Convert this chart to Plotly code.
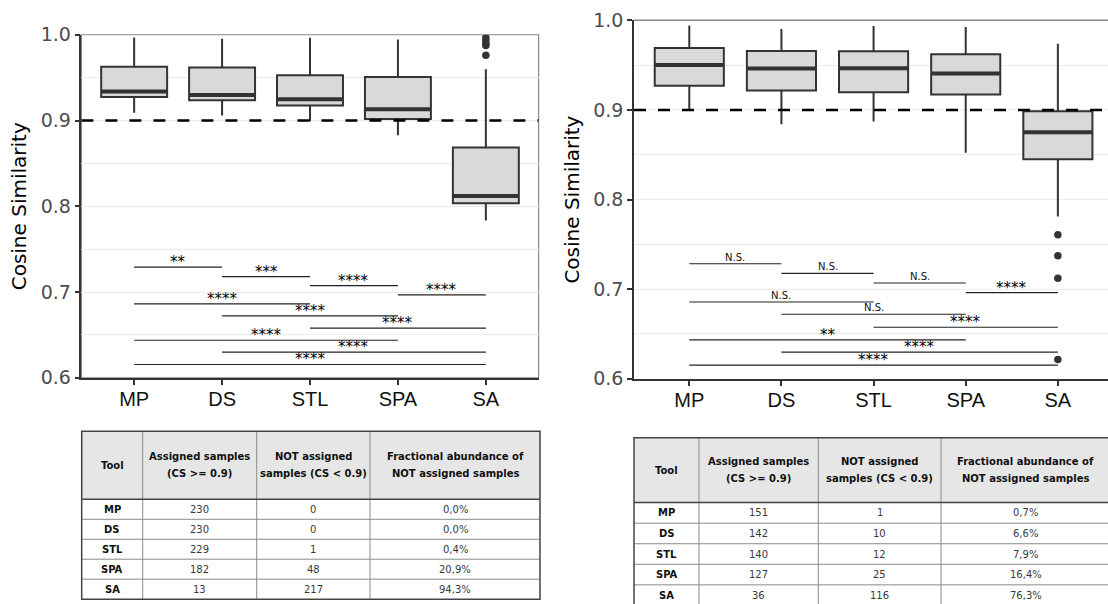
import plotly.graph_objects as go

# ---------------------------------------------------------------- data
tools = ["MP", "DS", "STL", "SPA", "SA"]
threshold = 0.9

# left panel: box statistics per tool
a_lower = [0.909, 0.906, 0.899, 0.883, 0.7835]
a_q1 = [0.9275, 0.9236, 0.9177, 0.9018, 0.8037]
a_median = [0.934, 0.9298, 0.925, 0.9131, 0.812]
a_q3 = [0.9628, 0.962, 0.953, 0.9507, 0.8685]
a_upper = [0.9969, 0.9953, 0.9965, 0.9946, 0.960]
a_out_tool = ["SA", "SA", "SA", "SA", "SA"]
a_out_val = [0.9965, 0.993, 0.990, 0.9876, 0.9763]

# right panel: box statistics per tool
b_lower = [0.8995, 0.8842, 0.8872, 0.8523, 0.7811]
b_q1 = [0.9269, 0.9217, 0.9198, 0.9173, 0.8449]
b_median = [0.9503, 0.9462, 0.9466, 0.9406, 0.875]
b_q3 = [0.9692, 0.9659, 0.9655, 0.9622, 0.8987]
b_upper = [0.9944, 0.9904, 0.9937, 0.9926, 0.974]
b_out_tool = ["SA", "SA", "SA", "SA"]
b_out_val = [0.7607, 0.7373, 0.7121, 0.6215]

# pairwise comparisons (group1, group2), bracket heights and labels
pairs = [("MP", "DS"), ("DS", "STL"), ("STL", "SPA"), ("SPA", "SA"),
         ("MP", "STL"), ("DS", "SPA"), ("STL", "SA"),
         ("MP", "SPA"), ("DS", "SA"), ("MP", "SA")]
a_bracket_y = [0.729, 0.718, 0.7075, 0.6966, 0.6861, 0.6722, 0.6578, 0.6438, 0.6299, 0.6155]
a_sig = ["**", "***", "****", "****", "****", "****", "****", "****", "****", "****"]
b_bracket_y = [0.7284, 0.7176, 0.7069, 0.6961, 0.6857, 0.672, 0.6575, 0.6434, 0.6297, 0.6152]
b_sig = ["N.S.", "N.S.", "N.S.", "****", "N.S.", "N.S.", "****", "**", "****", "****"]

# summary tables
table_header = [["Tool"],
                ["Assigned samples", "(CS &gt;= 0.9)"],
                ["NOT assigned", "samples (CS &lt; 0.9)"],
                ["Fractional abundance of", "NOT assigned samples"]]
a_assigned = [230, 230, 229, 182, 13]
a_not_assigned = [0, 0, 1, 48, 217]
a_fraction = ["0,0%", "0,0%", "0,4%", "20,9%", "94,3%"]
b_assigned = [151, 142, 140, 127, 36]
b_not_assigned = [1, 10, 12, 25, 116]
b_fraction = ["0,7%", "6,6%", "7,9%", "16,4%", "76,3%"]

# ---------------------------------------------------------------- geometry helpers
W, H = 1108, 604
# vertical layout positions are given in screen pixels; this maps them onto
# the paper coordinates of the drawing area
V_OFF, V_SCALE = 10.7, 0.9655


def px_x(v):
    return v / W


def px_y(v):
    return 1 - ((v - V_OFF) / V_SCALE) / H


BOX_WIDTH = 0.75
BOX_FILL = "#d9d9d9"
DARK = "#333333"
GRID = "#ebebeb"
FONT = "DejaVu Sans"
pos = {t: i for i, t in enumerate(tools)}

fig = go.Figure()


def add_panel(xa, ya, lower, q1, med, q3, upper, out_tool, out_val, bracket_y, sig):
    xs = [pos[t] for t in tools]
    fig.add_trace(go.Box(
        x=xs, q1=q1, median=med, q3=q3, lowerfence=lower, upperfence=upper,
        width=BOX_WIDTH, whiskerwidth=0, fillcolor=BOX_FILL,
        line=dict(color=DARK, width=2), boxpoints=False, hoverinfo="skip",
        xaxis=xa, yaxis=ya))
    # thicker median bars
    mx, my = [], []
    for p, m in zip(xs, med):
        mx += [p - BOX_WIDTH / 2, p + BOX_WIDTH / 2, None]
        my += [m, m, None]
    fig.add_trace(go.Scatter(x=mx, y=my, mode="lines", line=dict(color=DARK, width=4),
                             hoverinfo="skip", xaxis=xa, yaxis=ya))
    # outliers
    fig.add_trace(go.Scatter(x=[pos[t] for t in out_tool], y=out_val, mode="markers",
                             marker=dict(color=DARK, size=7.5), hoverinfo="skip",
                             xaxis=xa, yaxis=ya))
    # significance brackets
    bx, by = [], []
    for (g1, g2), yb in zip(pairs, bracket_y):
        bx += [pos[g1], pos[g2], None]
        by += [yb, yb, None]
    fig.add_trace(go.Scatter(x=bx, y=by, mode="lines", line=dict(color="#222222", width=1.2),
                             hoverinfo="skip", xaxis=xa, yaxis=ya))
    for (g1, g2), yb, s in zip(pairs, bracket_y, sig):
        star = s.startswith("*")
        fig.add_annotation(
            x=(pos[g1] + pos[g2]) / 2, y=yb, xref=xa, yref=ya, text=s, showarrow=False,
            yanchor="bottom", yshift=-6 if star else -1,
            font=dict(family=FONT, size=15 if star else 10, color="#000000" if star else "#111111"))
    # threshold line
    fig.add_shape(type="line", xref=f"{xa} domain", yref=ya, x0=0, x1=1, y0=threshold, y1=threshold,
                  line=dict(color="black", width=2.5, dash="12px,12px"), layer="above")


add_panel("x", "y", a_lower, a_q1, a_median, a_q3, a_upper, a_out_tool, a_out_val, a_bracket_y, a_sig)
add_panel("x2", "y2", b_lower, b_q1, b_median, b_q3, b_upper, b_out_tool, b_out_val, b_bracket_y, b_sig)

# panel borders
fig.add_shape(type="rect", xref="x domain", yref="y domain", x0=0, x1=1, y0=0, y1=1,
              line=dict(color="#888888", width=1.2), layer="below")
fig.add_shape(type="line", xref="x2 domain", yref="y2 domain", x0=0, x1=1, y0=1, y1=1,
              line=dict(color="#888888", width=1.5), layer="below")

xaxis_style = dict(tickmode="array", tickvals=list(range(len(tools))), ticktext=tools,
                   ticks="outside", ticklen=5, tickwidth=1.5, tickcolor=DARK,
                   ticklabelstandoff=-3,
                   showline=True, linecolor=DARK, linewidth=1.5, showgrid=False, zeroline=False,
                   tickfont=dict(family="Liberation Sans", size=20, color="#111111"))
yaxis_style = dict(range=[0.5999, 1.0001], dtick=0.1, tick0=0.6, tickformat=".1f",
                   ticks="outside", ticklen=5, tickwidth=1.5, tickcolor=DARK,
                   showline=True, linecolor=DARK, linewidth=1.5, zeroline=False,
                   showgrid=True, gridcolor=GRID, gridwidth=1,
                   minor=dict(dtick=0.05, tick0=0.6, showgrid=True, gridcolor=GRID, gridwidth=1),
                   tickfont=dict(family=FONT, size=19, color="#4d4d4d"))

fig.update_layout(
    width=W, height=H, margin=dict(l=0, r=0, t=0, b=0),
    paper_bgcolor="white", plot_bgcolor="white", showlegend=False,
    xaxis=dict(domain=[px_x(81.4), px_x(538.6)], range=[-0.6, 4.6], anchor="y", **xaxis_style),
    yaxis=dict(domain=[px_y(378.3), px_y(34.5)], anchor="x", **yaxis_style),
    xaxis2=dict(domain=[px_x(634), 1.0], range=[-0.6, 4.544], anchor="y2", **xaxis_style),
    yaxis2=dict(domain=[px_y(379.3), min(1.0, px_y(20))], anchor="x2", **yaxis_style),
)

for xc, yc in [(19, 206.4), (572, 199.7)]:
    fig.add_annotation(text="Cosine Similarity", textangle=-90, showarrow=False,
                       xref="paper", yref="paper", x=px_x(xc), y=px_y(yc),
                       xanchor="center", yanchor="middle",
                       font=dict(family=FONT, size=20, color="black"))


# ---------------------------------------------------------------- tables
def draw_table(col_edges, top, header_bottom, row_h, columns):
    n_rows = len(columns[0])
    bottom = header_bottom + n_rows * row_h
    left, right = col_edges[0], col_edges[-1]
    paper = dict(xref="paper", yref="paper")
    # header background
    fig.add_shape(type="rect", x0=px_x(left), x1=px_x(right), y0=px_y(header_bottom), y1=px_y(top),
                  fillcolor="#e6e6e6", line=dict(width=0), layer="below", **paper)
    # inner row separators
    for r in range(1, n_rows):
        yl = header_bottom + r * row_h
        fig.add_shape(type="line", x0=px_x(left), x1=px_x(right), y0=px_y(yl), y1=px_y(yl),
                      line=dict(color="#8a8a8a", width=1), **paper)
    # column separators
    for xe in col_edges[1:-1]:
        fig.add_shape(type="line", x0=px_x(xe), x1=px_x(xe), y0=px_y(bottom), y1=px_y(top),
                      line=dict(color="#8a8a8a", width=1), **paper)
    # header bottom rule and outer frame
    fig.add_shape(type="line", x0=px_x(left), x1=px_x(right), y0=px_y(header_bottom), y1=px_y(header_bottom),
                  line=dict(color="#444444", width=1.5), **paper)
    fig.add_shape(type="rect", x0=px_x(left), x1=px_x(right), y0=px_y(bottom), y1=px_y(top),
                  line=dict(color="#444444", width=1.5), **paper)
    # header text
    head_mid = (top + header_bottom) / 2
    line_gap = 16.6
    for c, lines in enumerate(table_header):
        xc = (col_edges[c] + col_edges[c + 1]) / 2
        for k, txt in enumerate(lines):
            yc = head_mid + (k - (len(lines) - 1) / 2) * line_gap
            fig.add_annotation(text=f"<b>{txt}</b>", x=px_x(xc), y=px_y(yc), showarrow=False,
                               xanchor="center", yanchor="middle",
                               font=dict(family=FONT, size=10, color="#111111"), **paper)
    # body text
    for c, col in enumerate(columns):
        xc = (col_edges[c] + col_edges[c + 1]) / 2
        for r, val in enumerate(col):
            yc = header_bottom + (r + 0.5) * row_h
            txt = f"<b>{val}</b>" if c == 0 else str(val)
            fig.add_annotation(text=txt, x=px_x(xc), y=px_y(yc), showarrow=False,
                               xanchor="center", yanchor="middle",
                               font=dict(family=FONT, size=10, color="#111111" if c == 0 else "#3a3a3a"),
                               **paper)


draw_table([81.7, 142.7, 256.7, 370, 540], 431.7, 500, 20,
           [tools, a_assigned, a_not_assigned, a_fraction])
draw_table([634, 699, 818.3, 941, 1110], 438.3, 503.3, 20.6,
           [tools, b_assigned, b_not_assigned, b_fraction])

fig.write_html("out.html")
